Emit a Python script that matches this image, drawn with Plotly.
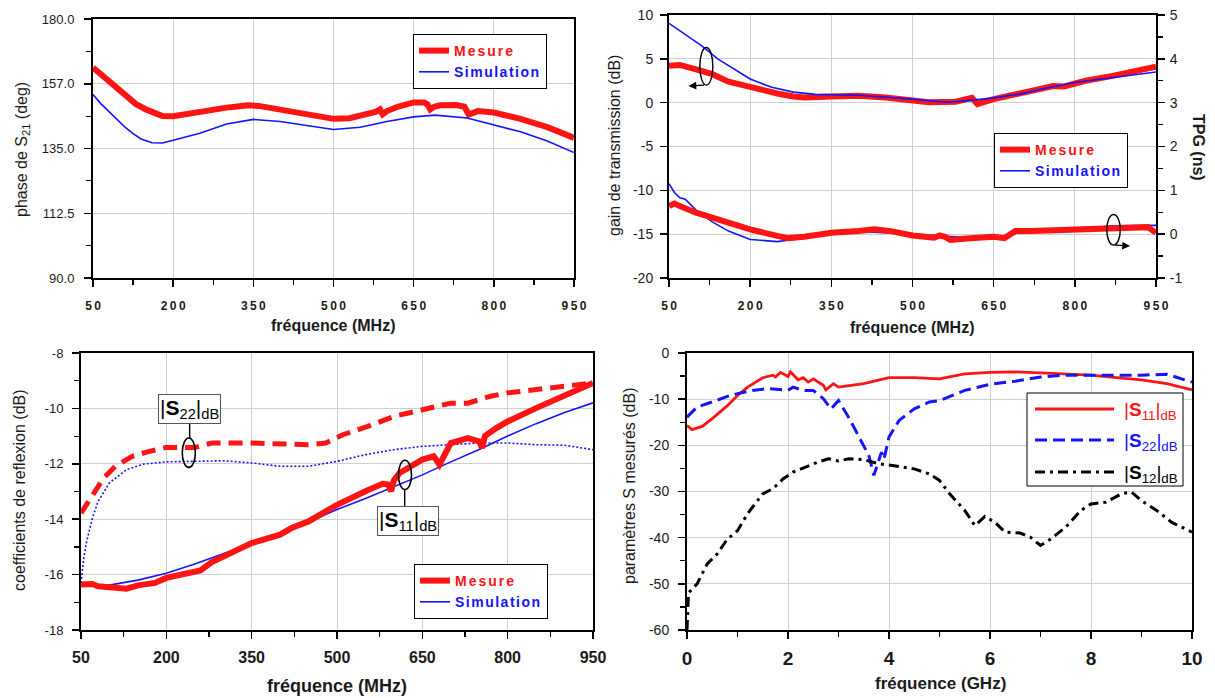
import plotly.graph_objects as go

# ---------------- DATA ----------------
# Panel 1 : phase de S21 (deg) vs fréquence (MHz)
phase_mes_f = [50, 60, 70, 80, 90, 100, 115, 130, 150, 180, 200, 230, 250, 270, 300, 320, 340, 360, 380, 400,
               420, 450, 480, 500, 530, 560, 580, 587, 592, 600, 620, 650, 670, 676, 681, 688, 700, 730, 745,
               753, 760, 770, 800, 850, 900, 950]
phase_mes = [163.1, 161.5, 160.0, 158.3, 156.8, 155.2, 152.5, 150.5, 148.5, 146.3, 146.2, 147.2, 148.0, 148.6,
             149.2, 149.6, 150.0, 149.8, 149.2, 148.6, 147.6, 146.8, 146.0, 145.3, 145.5, 146.6, 147.8, 148.6,
             146.9, 148.0, 149.5, 151.0, 151.0, 150.3, 148.6, 149.5, 150.0, 150.1, 149.5, 146.8, 147.5, 148.0,
             147.5, 145.3, 142.4, 138.7]
phase_sim_f = [50, 65, 80, 95, 110, 125, 140, 160, 180, 200, 250, 300, 350, 400, 450, 500, 550, 600, 650, 690,
               750, 800, 850, 900, 950]
phase_sim = [153.8, 150.5, 147.8, 145.0, 142.4, 140.2, 138.3, 137.0, 136.9, 137.9, 140.3, 143.5, 145.1, 144.4,
             142.9, 141.6, 142.4, 144.4, 146.0, 146.6, 145.6, 143.3, 140.8, 137.6, 133.6]

# Panel 2 : gain de transmission (dB) and TPG (ns)
gain_mes_f = [50, 70, 100, 130, 160, 200, 250, 280, 300, 350, 400, 450, 500, 530, 580, 600, 610, 615, 620, 650,
              680, 720, 760, 780, 820, 870, 920, 950]
gain_mes = [4.2, 4.3, 3.8, 3.25, 2.4, 1.75, 1.05, 0.7, 0.6, 0.7, 0.8, 0.6, 0.3, 0.05, 0.1, 0.4, 0.55, 0.2, -0.15,
            0.4, 0.8, 1.35, 1.9, 1.85, 2.5, 3.05, 3.75, 4.1]
gain_sim_f = [50, 80, 110, 140, 170, 200, 240, 280, 320, 400, 500, 560, 600, 650, 700, 750, 800, 870, 950]
gain_sim = [9.05, 7.8, 6.5, 5.0, 3.8, 2.7, 1.75, 1.2, 0.95, 0.85, 0.4, 0.05, 0.2, 0.55, 1.0, 1.7, 2.3, 2.9, 3.5]
tpg_mes_f = [50, 60, 70, 100, 130, 160, 200, 250, 270, 300, 350, 400, 430, 460, 500, 540, 550, 560, 570, 600,
             650, 670, 690, 720, 800, 850, 900, 935, 950]
tpg_mes = [0.64, 0.70, 0.64, 0.49, 0.38, 0.26, 0.11, -0.04, -0.09, -0.06, 0.03, 0.07, 0.11, 0.07, -0.03, -0.08,
           -0.03, -0.06, -0.13, -0.10, -0.06, -0.09, 0.07, 0.07, 0.11, 0.13, 0.16, 0.16, 0.03]
tpg_sim_f = [50, 60, 70, 80, 100, 130, 160, 200, 250, 280, 320, 400, 500, 600, 680, 700, 800, 870, 950]
tpg_sim = [1.15, 0.95, 0.83, 0.80, 0.55, 0.28, 0.07, -0.12, -0.17, -0.12, -0.01, 0.06, 0.0, -0.08, -0.04, 0.06,
           0.11, 0.19, 0.2]

# Panel 3 : coefficients de réflexion (dB)
s22_mes_f = [50, 70, 90, 110, 140, 170, 200, 250, 280, 350, 400, 450, 480, 510, 550, 600, 650, 700, 730, 770,
             800, 850, 900, 950]
s22_mes = [-13.78, -13.11, -12.51, -12.09, -11.73, -11.55, -11.41, -11.41, -11.25, -11.25, -11.28, -11.31,
           -11.25, -10.95, -10.68, -10.29, -10.05, -9.81, -9.81, -9.56, -9.44, -9.32, -9.2, -9.08]
s22_sim_f = [50, 55, 60, 70, 80, 100, 130, 160, 200, 250, 300, 350, 400, 450, 500, 550, 600, 650, 700, 750,
             800, 850, 900, 950]
s22_sim = [-16.3, -15.4, -14.8, -13.96, -13.36, -12.69, -12.21, -12.01, -11.93, -11.91, -11.89, -11.97, -12.09,
           -12.09, -11.91, -11.67, -11.49, -11.37, -11.31, -11.25, -11.25, -11.31, -11.33, -11.49]
s11_mes_f = [50, 60, 70, 80, 100, 130, 150, 180, 200, 230, 260, 280, 300, 350, 400, 420, 450, 500, 550, 580,
             590, 595, 600, 610, 650, 670, 680, 690, 700, 730, 750, 755, 760, 780, 800, 850, 900, 950]
s11_mes = [-16.36, -16.33, -16.34, -16.42, -16.46, -16.51, -16.39, -16.3, -16.12, -16.0, -15.85, -15.55, -15.34,
           -14.86, -14.56, -14.32, -14.08, -13.48, -12.99, -12.72, -12.75, -12.99, -12.6, -12.33, -11.85, -11.73,
           -12.03, -11.6, -11.25, -11.07, -11.19, -11.43, -11.0, -10.71, -10.47, -9.99, -9.56, -9.08]
s11_sim_f = [50, 100, 150, 200, 250, 300, 350, 400, 450, 500, 550, 600, 650, 700, 750, 800, 850, 900, 950]
s11_sim = [-16.35, -16.38, -16.2, -15.95, -15.62, -15.25, -14.88, -14.5, -14.1, -13.65, -13.25, -12.83, -12.4,
           -11.93, -11.48, -11.0, -10.55, -10.15, -9.8]

# Panel 4 : paramètres S mesurés (dB) vs fréquence (GHz)
ps11_f = [0.0, 0.1, 0.3, 0.5, 0.8, 1.0, 1.2, 1.5, 1.7, 1.75, 1.85, 2.0, 2.05, 2.2, 2.3, 2.4, 2.5, 2.7, 2.75, 2.9,
          3.0, 3.5, 4.0, 4.5, 5.0, 5.5, 6.0, 6.5, 7.0, 7.5, 8.0, 8.5, 9.0, 9.5, 10.0]
ps11 = [-15.7, -16.6, -15.9, -14.2, -11.4, -9.2, -7.4, -5.35, -4.8, -5.2, -4.2, -5.1, -4.1, -5.8, -5.35, -6.3,
        -5.6, -7.0, -8.0, -6.65, -7.4, -6.65, -5.35, -5.35, -5.6, -4.5, -4.2, -4.1, -4.3, -4.5, -4.8, -5.35, -5.8,
        -6.65, -8.0]
ps22_f = [0.0, 0.2, 0.5, 0.8, 1.0, 1.3, 1.6, 2.0, 2.1, 2.3, 2.5, 2.7, 2.85, 3.0, 3.2, 3.4, 3.6, 3.7, 3.8, 3.85,
          3.9, 4.0, 4.2, 4.5, 4.8, 5.0, 5.5, 6.0, 6.5, 7.0, 7.5, 8.0, 8.5, 9.0, 9.5, 10.0]
ps22 = [-13.9, -11.7, -10.6, -9.4, -8.8, -8.1, -7.7, -8.1, -7.4, -8.1, -8.1, -9.9, -12.1, -10.3, -13.9, -18.2,
        -22.2, -26.5, -23.0, -21.5, -23.0, -18.2, -14.6, -12.1, -10.6, -10.3, -8.1, -6.8, -6.1, -5.2, -4.8, -4.8,
        -4.8, -4.8, -4.6, -6.3]
ps12_f = [0.0, 0.03, 0.1, 0.2, 0.4, 0.6, 0.8, 1.0, 1.2, 1.5, 1.7, 1.9, 2.1, 2.3, 2.6, 2.8, 3.0, 3.2, 3.5, 3.8,
          4.1, 4.5, 4.8, 5.0, 5.2, 5.5, 5.7, 5.9, 6.1, 6.3, 6.6, 6.8, 7.0, 7.2, 7.5, 7.8, 8.0, 8.3, 8.6, 8.8, 9.0,
          9.3, 9.6, 10.0]
ps12 = [-60.0, -52.0, -51.1, -50.0, -45.7, -43.5, -40.3, -38.5, -34.8, -30.5, -29.4, -27.3, -25.8, -24.9, -23.6,
        -22.9, -23.4, -22.9, -23.1, -24.0, -24.4, -25.1, -26.2, -27.6, -30.5, -34.1, -37.4, -35.4, -36.7, -38.8,
        -39.0, -39.9, -41.7, -40.3, -37.7, -34.1, -32.7, -32.3, -30.5, -30.1, -32.0, -34.1, -36.7, -38.8]

# Tick labels
mhz_ticks = [50, 200, 350, 500, 650, 800, 950]
phase_ticks = [90, 112.5, 135, 157.5, 180]
phase_ticktext = ["90.0", "112.5", "135.0", "157.0", "180.0"]
gain_ticks = [-20, -15, -10, -5, 0, 5, 10]
tpg_ticks = [-1, 0, 1, 2, 3, 4, 5]
refl_ticks = [-18, -16, -14, -12, -10, -8]
ghz_ticks = [0, 2, 4, 6, 8, 10]
sparam_ticks = [-60, -50, -40, -30, -20, -10, 0]

# ---------------- STYLE ----------------
W, H = 1215, 698
def px(x): return x / W
def py(y): return 1 - y / H

RED = "#ff1414"
BLUE = "#1414ff"
BLACK = "#000000"
GRID = "#cfcfcf"
FONT = "Liberation Sans, Arial, sans-serif"
TXT = "#1a1a1a"

spaced = lambda v: "\u2009".join(str(v))

def xax(domain, rng, tickvals, ticktext, minor_vals, anchor, size=12, bold=True, standoff=2):
    return dict(domain=domain, range=rng, anchor=anchor, tickmode="array", tickvals=tickvals, ticktext=ticktext,
                ticks="outside", ticklen=7, tickwidth=1.5, tickcolor=BLACK, automargin=False,
                minor=dict(tickmode="array", tickvals=minor_vals, ticks="outside", ticklen=5, tickwidth=1.2,
                           tickcolor=BLACK, showgrid=False),
                showline=True, linewidth=2, linecolor=BLACK, mirror=True,
                showgrid=True, gridcolor=GRID, gridwidth=1, zeroline=False,
                tickfont=dict(family=FONT, size=size, color=TXT, weight="bold" if bold else "normal"),
                ticklabelstandoff=standoff)

def yax(domain, rng, tickvals, ticktext, minor_vals, anchor, size=13, standoff=4):
    return dict(domain=domain, range=rng, anchor=anchor, tickmode="array", tickvals=tickvals, ticktext=ticktext,
                ticks="outside", ticklen=7, tickwidth=1.5, tickcolor=BLACK, automargin=False,
                minor=dict(tickmode="array", tickvals=minor_vals, ticks="outside", ticklen=5, tickwidth=1.2,
                           tickcolor=BLACK, showgrid=False),
                showline=True, linewidth=2, linecolor=BLACK, mirror=True,
                showgrid=True, gridcolor=GRID, gridwidth=1, zeroline=False,
                tickfont=dict(family=FONT, size=size, color=TXT),
                ticklabelstandoff=standoff)

mhz_minor = [m + 75 for m in mhz_ticks[:-1]]

fig = go.Figure()

MES_NAME = "<b><span style='color:%s;letter-spacing:2px'>Mesure</span></b>" % RED
SIM_NAME = "<b><span style='color:%s;letter-spacing:1.5px'>Simulation</span></b>" % BLUE

# Panel 1
fig.add_trace(go.Scatter(x=phase_mes_f, y=phase_mes, mode="lines", line=dict(color=RED, width=6),
                         name=MES_NAME, legend="legend", xaxis="x", yaxis="y"))
fig.add_trace(go.Scatter(x=phase_sim_f, y=phase_sim, mode="lines", line=dict(color=BLUE, width=1.6),
                         name=SIM_NAME, legend="legend", xaxis="x", yaxis="y"))

# Panel 2
fig.add_trace(go.Scatter(x=gain_mes_f, y=gain_mes, mode="lines", line=dict(color=RED, width=6),
                         name=MES_NAME, legend="legend2", xaxis="x2", yaxis="y2"))
fig.add_trace(go.Scatter(x=gain_sim_f, y=gain_sim, mode="lines", line=dict(color=BLUE, width=1.6),
                         name=SIM_NAME, legend="legend2", xaxis="x2", yaxis="y2"))
fig.add_trace(go.Scatter(x=tpg_sim_f, y=tpg_sim, mode="lines", line=dict(color=BLUE, width=1.6),
                         showlegend=False, xaxis="x2", yaxis="y5"))
fig.add_trace(go.Scatter(x=tpg_mes_f, y=tpg_mes, mode="lines", line=dict(color=RED, width=6),
                         showlegend=False, xaxis="x2", yaxis="y5"))

# Panel 3
fig.add_trace(go.Scatter(x=s22_mes_f, y=s22_mes, mode="lines", line=dict(color=RED, width=5, dash="14px,8px"),
                         showlegend=False, xaxis="x3", yaxis="y3"))
fig.add_trace(go.Scatter(x=s22_sim_f, y=s22_sim, mode="lines", line=dict(color=BLUE, width=1.6, dash="2px,2px"),
                         showlegend=False, xaxis="x3", yaxis="y3"))
fig.add_trace(go.Scatter(x=s11_sim_f, y=s11_sim, mode="lines", line=dict(color=BLUE, width=1.6),
                         name=SIM_NAME, legend="legend3", xaxis="x3", yaxis="y3"))
fig.add_trace(go.Scatter(x=s11_mes_f, y=s11_mes, mode="lines", line=dict(color=RED, width=6),
                         name=MES_NAME, legend="legend3", legendrank=1, xaxis="x3", yaxis="y3"))

# Panel 4
fig.add_trace(go.Scatter(x=ps11_f, y=ps11, mode="lines", line=dict(color=RED, width=2.8),
                         showlegend=False, xaxis="x4", yaxis="y4"))
fig.add_trace(go.Scatter(x=ps22_f, y=ps22, mode="lines", line=dict(color=BLUE, width=3, dash="12px,6px"),
                         showlegend=False, xaxis="x4", yaxis="y4"))
fig.add_trace(go.Scatter(x=ps12_f, y=ps12, mode="lines", line=dict(color=BLACK, width=3, dash="10px,5px,3px,5px"),
                         showlegend=False, xaxis="x4", yaxis="y4"))

layout = dict(
    width=W, height=H, margin=dict(l=0, r=0, t=0, b=0, autoexpand=False),
    paper_bgcolor="white", plot_bgcolor="white", showlegend=True,
    font=dict(family=FONT, color=TXT),
    xaxis=xax([px(93), px(574)], [50, 950], mhz_ticks, [spaced(v) for v in mhz_ticks], mhz_minor, "y", 12, True, 9),
    yaxis=yax([py(278), py(19)], [90, 180], phase_ticks, phase_ticktext,
              [101.25, 123.75, 146.25, 168.75], "x", 13, 7),
    xaxis2=xax([px(669), px(1156)], [50, 950], mhz_ticks, [spaced(v) for v in mhz_ticks], mhz_minor, "y2", 12, True, 9),
    yaxis2=yax([py(278), py(15)], [-20, 10], gain_ticks, [str(v) for v in gain_ticks], [], "x2", 14, 4),
    xaxis3=xax([px(81), px(593)], [50, 950], mhz_ticks, [str(v) for v in mhz_ticks], mhz_minor, "y3", 16, True, 5),
    yaxis3=yax([py(630), py(353)], [-18, -8], refl_ticks, [str(v) for v in refl_ticks],
               [-17, -15, -13, -11, -9], "x3", 13, 6),
    xaxis4=xax([px(687), px(1192)], [0, 10], ghz_ticks, [str(v) for v in ghz_ticks], [1, 3, 5, 7, 9], "y4", 19, True, 3),
    yaxis4=yax([py(630), py(353)], [-60, 0], sparam_ticks, [str(v) for v in sparam_ticks],
               [-55, -45, -35, -25, -15, -5], "x4", 14, 6),
    yaxis5=dict(overlaying="y2", side="right", anchor="x2", range=[-1, 5], tickmode="array", tickvals=tpg_ticks,
                ticktext=[str(v) for v in tpg_ticks], ticks="outside", ticklen=7, tickwidth=1.5, tickcolor=BLACK,
                minor=dict(tickmode="array", tickvals=[-0.5, 0.5, 1.5, 2.5, 3.5, 4.5], ticks="outside",
                           ticklen=5, tickwidth=1.2, tickcolor=BLACK),
                showline=True, linewidth=2, linecolor=BLACK, showgrid=False, zeroline=False, automargin=False,
                tickfont=dict(family=FONT, size=14, color=TXT), ticklabelstandoff=2),
)

leg_common = dict(bgcolor="white", bordercolor=BLACK, borderwidth=1, xanchor="left", yanchor="top",
                  font=dict(family=FONT, size=14), tracegroupgap=0, itemclick=False, itemdoubleclick=False)
layout["legend"] = dict(x=px(413), y=py(34), **leg_common)
layout["legend2"] = dict(x=px(994), y=py(133), **leg_common)
layout["legend3"] = dict(x=px(414), y=py(564), traceorder="normal", **leg_common)

fig.update_layout(**layout)

# ---------------- Axis titles ----------------
def title(text, x, y, size, angle=0, bold=False):
    fig.add_annotation(text=("<b>%s</b>" % text) if bold else text, x=px(x), y=py(y), xref="paper", yref="paper",
                       showarrow=False, textangle=angle, xanchor="center", yanchor="middle",
                       font=dict(family=FONT, size=size, color=TXT))

title("fréquence (MHz)", 333, 326, 16, bold=True)
title("fréquence (MHz)", 912, 327, 16, bold=True)
title("fréquence (MHz)", 337, 686, 18, bold=True)
title("fréquence (GHz)", 940, 683, 17, bold=True)
title("phase de S<sub>21</sub> (deg)", 22, 150, 16, -90)
title("gain de transmission (dB)", 614, 146, 16, -90)
title("TPG (ns)", 1199, 147, 16, 90, bold=True)
title("coefficients de reflexion (dB)", 19, 490, 16, -90)
title("paramètres S mesurés (dB)", 629, 486, 16, -90)

# ---------------- Panel 2 rings & arrows ----------------
fig.add_shape(type="circle", xref="x2", yref="y2", x0=107, x1=131, y0=2.0, y1=6.3,
              line=dict(color=BLACK, width=1.4))
fig.add_annotation(xref="x2", yref="y2", axref="x2", ayref="y2", x=86, y=1.9, ax=118, ay=2.0, text="",
                   showarrow=True, arrowhead=2, arrowsize=1.2, arrowwidth=1.3, arrowcolor=BLACK)
fig.add_shape(type="circle", xref="x2", yref="y5", x0=859, x1=884, y0=0.45, y1=-0.25,
              line=dict(color=BLACK, width=1.4))
fig.add_annotation(xref="x2", yref="y5", axref="x2", ayref="y5", x=902, y=-0.27, ax=872, ay=-0.25, text="",
                   showarrow=True, arrowhead=2, arrowsize=1.2, arrowwidth=1.3, arrowcolor=BLACK)

# ---------------- Panel 3 rings & labels ----------------
fig.add_shape(type="circle", xref="x3", yref="y3", x0=228, x1=251, y0=-11.07, y1=-12.13,
              line=dict(color=BLACK, width=1.6))
fig.add_shape(type="line", xref="x3", yref="y3", x0=241, x1=241, y0=-10.55, y1=-11.07,
              line=dict(color=BLACK, width=1.4))
fig.add_annotation(xref="x3", yref="y3", x=241, y=-10.02, text="|<b>S</b><sub>22</sub>|<sub>dB</sub>",
                   showarrow=False, bgcolor="white", bordercolor="#555", borderwidth=1, borderpad=1,
                   font=dict(family=FONT, size=21, color=BLACK))
fig.add_shape(type="circle", xref="x3", yref="y3", x0=608, x1=631, y0=-11.87, y1=-12.93,
              line=dict(color=BLACK, width=1.6))
fig.add_shape(type="line", xref="x3", yref="y3", x0=619, x1=619, y0=-12.93, y1=-13.55,
              line=dict(color=BLACK, width=1.4))
fig.add_annotation(xref="x3", yref="y3", x=624, y=-14.05, text="|<b>S</b><sub>11</sub>|<sub>dB</sub>",
                   showarrow=False, bgcolor="white", bordercolor="#555", borderwidth=1, borderpad=1,
                   font=dict(family=FONT, size=21, color=BLACK))

# ---------------- Panel 4 legend (drawn box) ----------------
fig.add_shape(type="rect", xref="paper", yref="paper", x0=px(1027), x1=px(1183), y0=py(486), y1=py(393),
              line=dict(color=BLACK, width=1), fillcolor="white", layer="above")
leg4 = [("|<b>S</b><sub>11</sub>|<sub>dB</sub>", RED, "solid", 409),
        ("|<b>S</b><sub>22</sub>|<sub>dB</sub>", BLUE, "12px,6px", 440),
        ("|<b>S</b><sub>12</sub>|<sub>dB</sub>", BLACK, "10px,5px,3px,5px", 472)]
for txt, col, dash, yy in leg4:
    fig.add_shape(type="line", xref="paper", yref="paper", x0=px(1035), x1=px(1114), y0=py(yy), y1=py(yy),
                  line=dict(color=col, width=3, dash=dash), layer="above")
    fig.add_annotation(text=txt, x=px(1122), y=py(yy + 2), xref="paper", yref="paper", showarrow=False,
                       xanchor="left", yanchor="middle", font=dict(family=FONT, size=19, color=col))

fig.write_html("out.html", config={"displayModeBar": False, "staticPlot": True},
               post_script="document.body.style.margin='0px';document.body.style.padding='0px';"
                           "document.body.style.overflow='hidden';")
